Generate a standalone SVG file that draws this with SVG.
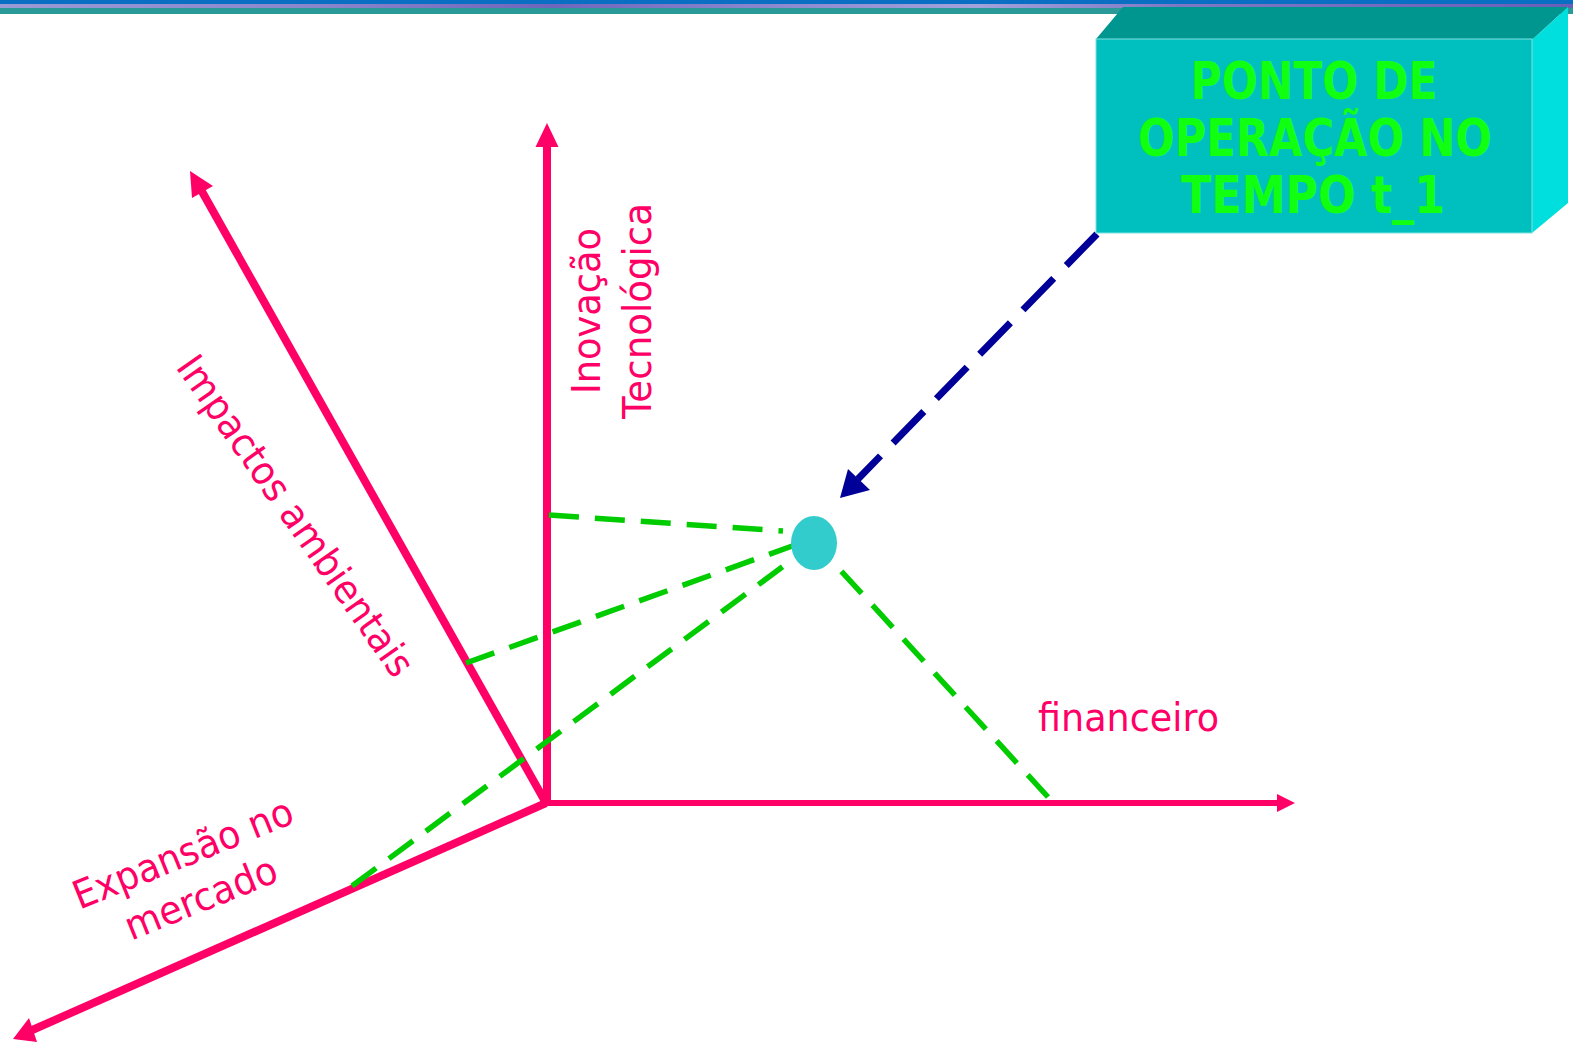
<svg xmlns="http://www.w3.org/2000/svg" width="1573" height="1043" viewBox="0 0 1573 1043">
<style>
.axis{stroke:#FF0066;fill:none;stroke-linecap:butt}
.head{fill:#FF0066}
.guide{stroke:#00CC00;stroke-width:5.5;fill:none;stroke-dasharray:30 16}
.lbl{font-family:"DejaVu Sans","Verdana",sans-serif;font-size:39px;fill:#FF0066}
.box{font-family:"DejaVu Sans","Verdana",sans-serif;font-size:51px;font-weight:bold;fill:#11FF11;text-anchor:middle}
</style>
<defs>
<linearGradient id="band" x1="0" y1="0" x2="1" y2="0">
<stop offset="0" stop-color="#9a9ad6"/>
<stop offset="0.2" stop-color="#8a86cc"/>
<stop offset="0.35" stop-color="#6e66bc"/>
<stop offset="0.5" stop-color="#8d8ad0"/>
<stop offset="0.62" stop-color="#a2a2dc"/>
<stop offset="0.75" stop-color="#7e78c4"/>
<stop offset="1" stop-color="#6a5fb8"/>
</linearGradient>
</defs>
<rect width="1573" height="1043" fill="#FFFFFF"/>
<g id="header">
<rect x="0" y="0" width="1573" height="4" fill="#0A6FC2"/>
<rect x="0" y="4" width="1573" height="4" fill="url(#band)"/>
<rect x="0" y="8" width="1573" height="6" fill="#2A9A98"/>
</g>
<g id="connectors">
<line class="axis" x1="546" y1="803" x2="1280" y2="803" stroke-width="6"/>
<polygon class="head" points="1295,803 1277,794 1277,812"/>
<line class="axis" x1="547" y1="806" x2="547" y2="145" stroke-width="8"/>
<polygon class="head" points="547,123 535.5,147 558.5,147"/>
<line class="axis" x1="546" y1="803" x2="200" y2="188" stroke-width="8"/>
<polygon class="head" points="190,171 192,198 213,186"/>
<line class="axis" x1="546" y1="803" x2="30" y2="1031" stroke-width="8"/>
<polygon class="head" points="13,1039 29,1018 37,1042"/>
<line class="guide" x1="549" y1="515" x2="783" y2="531"/>
<line class="guide" x1="466" y1="663" x2="795" y2="545"/>
<line class="guide" x1="352" y1="886" x2="797" y2="556"/>
<line class="guide" x1="1048" y1="797" x2="832" y2="561"/>
<line x1="1097" y1="234" x2="858" y2="479" stroke="#000099" stroke-width="7" stroke-dasharray="44 18"/>
<polygon points="840,498 848,469 870,490" fill="#000099"/>
</g>
<g id="point">
<ellipse cx="814" cy="543" rx="23" ry="27" fill="#33CCCC"/>
</g>
<g id="box-ponto">
<polygon points="1096,39 1123,7 1568,7 1532,40" fill="#009690"/>
<polygon points="1532,40 1568,7 1568,203 1532,233" fill="#00DEDE"/>
<rect x="1096" y="39" width="436" height="194" fill="#00BFBF" stroke="#7fe0e0" stroke-width="1"/>
<text class="box" x="1314" y="99" textLength="247" lengthAdjust="spacingAndGlyphs">PONTO DE</text>
<text class="box" x="1315" y="156" textLength="354" lengthAdjust="spacingAndGlyphs">OPERAÇÃO NO</text>
<text class="box" x="1313" y="213" textLength="264" lengthAdjust="spacingAndGlyphs">TEMPO t_1</text>
</g>
<g id="label-inovacao">
<text class="lbl" text-anchor="middle" transform="translate(600,311) rotate(-90)" textLength="166" lengthAdjust="spacingAndGlyphs">Inovação</text>
<text class="lbl" text-anchor="middle" transform="translate(651,311) rotate(-90)" textLength="216" lengthAdjust="spacingAndGlyphs">Tecnológica</text>
</g>
<g id="label-impactos">
<text class="lbl" transform="translate(175,367) rotate(55)" textLength="382" lengthAdjust="spacingAndGlyphs">Impactos ambientais</text>
</g>
<g id="label-expansao">
<text class="lbl" text-anchor="middle" transform="translate(188,866) rotate(-22)"><tspan x="0" y="0" textLength="234" lengthAdjust="spacingAndGlyphs">Expansão no</tspan><tspan x="0" y="48" textLength="161" lengthAdjust="spacingAndGlyphs">mercado</tspan></text>
</g>
<g id="label-financeiro">
<text class="lbl" x="1038" y="731" textLength="181" lengthAdjust="spacingAndGlyphs">financeiro</text>
</g>
</svg>
